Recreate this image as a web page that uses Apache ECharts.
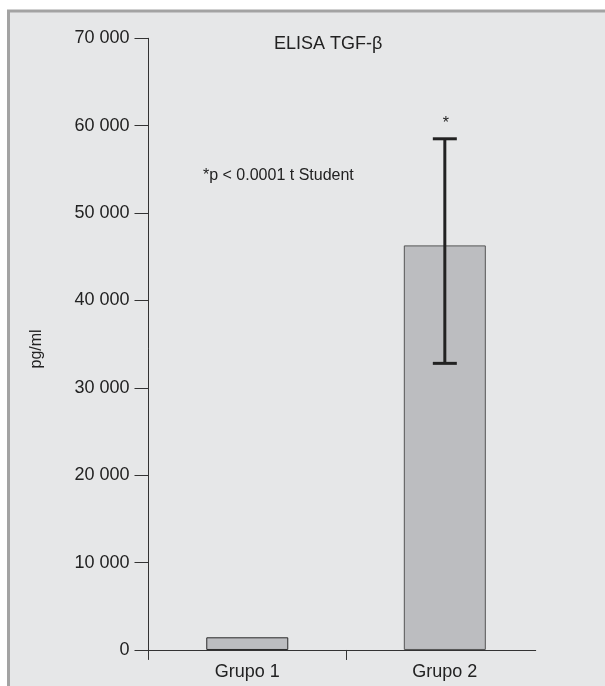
<!DOCTYPE html>
<html>
<head>
<meta charset="utf-8">
<script src="https://cdn.jsdelivr.net/npm/echarts@6/dist/echarts.min.js"></script>
<style>
html,body{margin:0;padding:0;background:#fff;}
#c{width:605px;height:686px;}
</style>
</head>
<body>
<div id="c"></div>
<script>
const categories = ['Grupo 1', 'Grupo 2'];
const categoryPos = [0.5, 1.5];
const means = [1450, 46300];
const errLow = [null, 32800];
const errHigh = [null, 58500];
const yTicks = [0, 10000, 20000, 30000, 40000, 50000, 60000, 70000];
const titleText = 'ELISA TGF-β';
const noteText = '*p < 0.0001 t Student';
const sigMark = [null, '*'];
const yName = 'pg/ml';

const FONT = '"Liberation Sans", Arial, sans-serif';
const TXT = '#222';

const chart = echarts.init(document.getElementById('c'), null, {renderer: 'canvas'});

const barData = categoryPos.map((x, i) => ({
  value: [x, means[i]],
  itemStyle: {borderColor: i === 0 ? '#2a2a2a' : '#555', borderWidth: 1}
}));
const errData = categoryPos.map((x, i) => [x, errLow[i], errHigh[i], i]).filter(d => d[1] != null);

function fmt(v) {
  return String(v).replace(/\B(?=(\d{3})+(?!\d))/g, ' ');
}

chart.setOption({
  backgroundColor: '#fff',
  animation: false,
  textStyle: {fontFamily: FONT},
  graphic: [
    {type: 'rect', z: -10, shape: {x: 8.5, y: 11, width: 620, height: 700},
     style: {fill: '#e6e7e8', stroke: '#a3a3a3', lineWidth: 3}},
    {type: 'text', z: 100, x: 274, y: 44,
     style: {text: titleText, font: '18px ' + FONT, fill: TXT, verticalAlign: 'middle'}},
    {type: 'text', z: 100, x: 203, y: 176,
     style: {text: noteText, font: '16px ' + FONT, fill: TXT, verticalAlign: 'middle'}}
  ],
  grid: {left: 148.5, right: 69.3, top: 38.3, bottom: 26.5, containLabel: false},
  xAxis: {
    type: 'value', min: 0, max: 1.96,
    splitLine: {show: false},
    axisLine: {show: true, onZero: true, lineStyle: {color: '#333', width: 1}},
    axisTick: {show: true, length: 10, customValues: [1], lineStyle: {color: '#333', width: 1}},
    axisLabel: {
      customValues: categoryPos, margin: 4, fontSize: 18, color: TXT, fontFamily: FONT,
      formatter: v => categories[categoryPos.indexOf(v)] || ''
    }
  },
  yAxis: {
    type: 'value', min: -1090, max: 70000,
    splitLine: {show: false},
    name: yName, nameLocation: 'middle', nameGap: 104, nameRotate: 90,
    nameTextStyle: {fontSize: 16, color: TXT, fontFamily: FONT},
    axisLine: {show: true, onZero: false, lineStyle: {color: '#333', width: 1}},
    axisTick: {show: true, length: 14, customValues: yTicks, lineStyle: {color: '#333', width: 1}},
    axisLabel: {customValues: yTicks, margin: 19, fontSize: 18, color: TXT, fontFamily: FONT, formatter: fmt}
  },
  series: [
    {
      type: 'bar', barWidth: 82,
      data: barData,
      itemStyle: {color: '#bcbdc0'},
      z: 2
    },
    {
      type: 'custom', z: 5,
      data: errData,
      encode: {x: 0, y: [1, 2]},
      renderItem: function (params, api) {
        const x = api.value(0);
        const lo = api.coord([x, api.value(1)]);
        const hi = api.coord([x, api.value(2)]);
        const idx = api.value(3);
        const cap = 12;
        const st = {stroke: '#222', lineWidth: 3};
        const children = [
          {type: 'line', shape: {x1: lo[0], y1: lo[1], x2: hi[0], y2: hi[1]}, style: st},
          {type: 'line', shape: {x1: hi[0] - cap, y1: hi[1], x2: hi[0] + cap, y2: hi[1]}, style: st},
          {type: 'line', shape: {x1: lo[0] - cap, y1: lo[1], x2: lo[0] + cap, y2: lo[1]}, style: st}
        ];
        if (sigMark[idx]) {
          children.push({type: 'text', x: hi[0] + 1, y: hi[1] - 15,
            style: {text: sigMark[idx], font: '16px ' + FONT, fill: TXT, align: 'center', verticalAlign: 'middle'}});
        }
        return {type: 'group', children: children};
      }
    }
  ]
});
</script>
</body>
</html>
